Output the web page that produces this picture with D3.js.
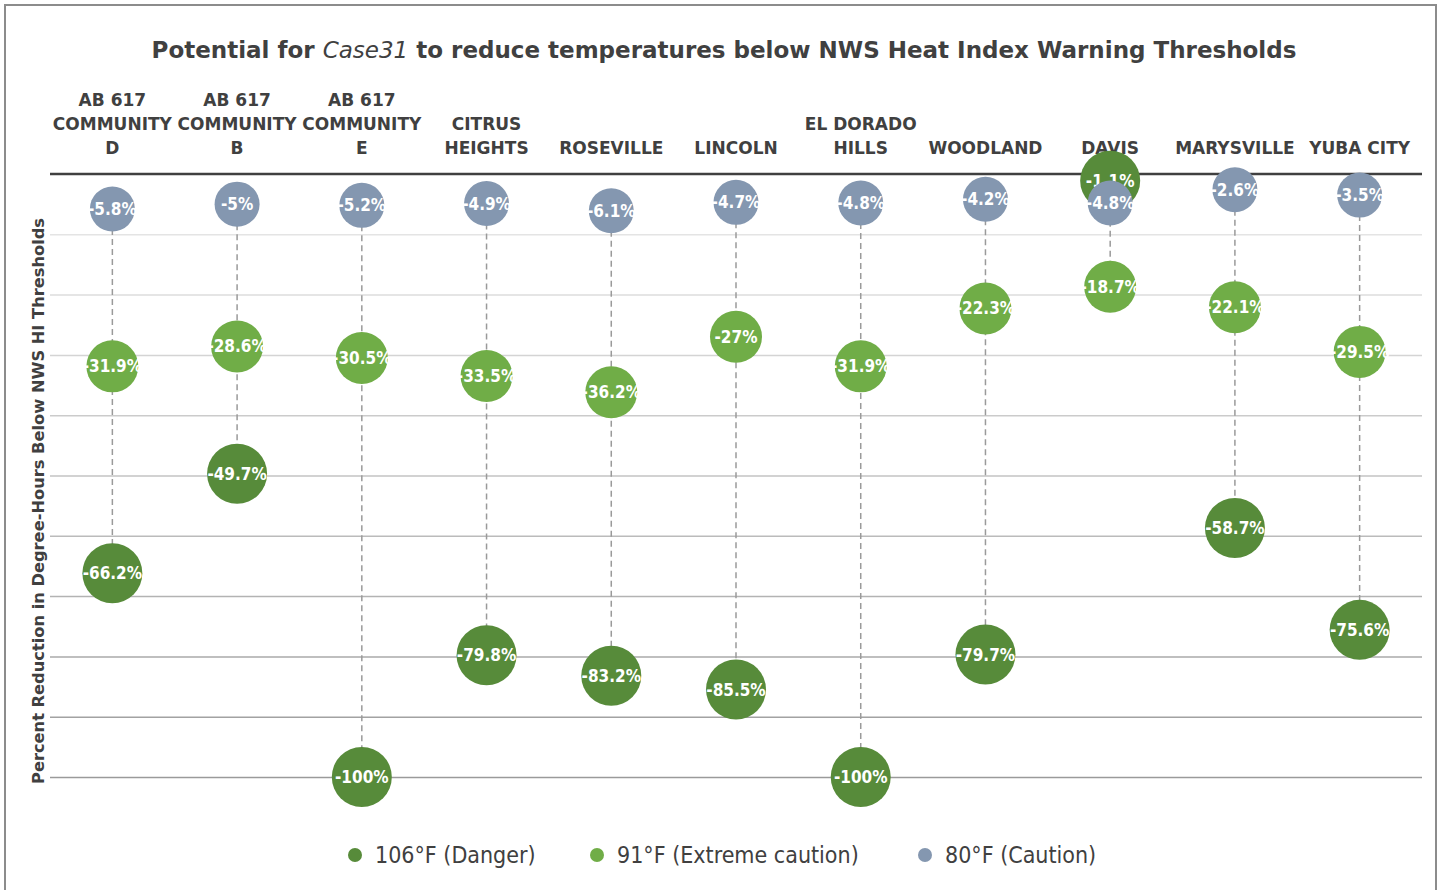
<!DOCTYPE html>
<html>
<head>
<meta charset="utf-8">
<script src="https://cdn.jsdelivr.net/npm/d3@7"></script>
<style>
  body { margin: 0; background: #fff; }
  svg { display: block; }
</style>
</head>
<body>
<div id="chart"></div>
<script>
// categories (label lines)
var categories = [
  ["AB 617", "COMMUNITY", "D"],
  ["AB 617", "COMMUNITY", "B"],
  ["AB 617", "COMMUNITY", "E"],
  ["CITRUS", "HEIGHTS"],
  ["ROSEVILLE"],
  ["LINCOLN"],
  ["EL DORADO", "HILLS"],
  ["WOODLAND"],
  ["DAVIS"],
  ["MARYSVILLE"],
  ["YUBA CITY"]
];
var danger  = [-66.2, -49.7, -100, -79.8, -83.2, -85.5, -100, -79.7, -1.1, -58.7, -75.6];
var extreme = [-31.9, -28.6, -30.5, -33.5, -36.2, -27, -31.9, -22.3, -18.7, -22.1, -29.5];
var caution = [-5.8, -5, -5.2, -4.9, -6.1, -4.7, -4.8, -4.2, -4.8, -2.6, -3.5];
var gridTicks = [-10, -20, -30, -40, -50, -60, -70, -80, -90, -100];

var series = [
  {name: "106°F (Danger)", values: danger, color: "#578b3a", r: 30},
  {name: "91°F (Extreme caution)", values: extreme, color: "#70ad47", r: 26},
  {name: "80°F (Caution)", values: caution, color: "#8497b0", r: 22.5}
];

var W = 1440, H = 890;
var margin = {top: 174, left: 50, right: 18, bottom: 113};
var textColor = "#404040";
var headFont = "'DejaVu Sans', 'Noto Sans', sans-serif";
var numFont = "'Liberation Sans Narrow', 'DejaVu Sans Condensed', 'Roboto', sans-serif";

var svg = d3.select("#chart").append("svg")
  .attr("width", W).attr("height", H);

// chart border
svg.append("rect")
  .attr("x", 5).attr("y", 5).attr("width", 1431).attr("height", 900)
  .attr("fill", "#fff").attr("stroke", "#8c8c8c").attr("stroke-width", 2);

var keys = categories.map(function(c) { return c.join(" "); });
var x = d3.scaleBand().domain(keys).range([margin.left, W - margin.right]);
var y = d3.scaleLinear().domain([0, -100]).range([margin.top, H - margin.bottom]);

// shrink a text node until it fits a width
function fit(sel, width) {
  sel.each(function() {
    var node = this, size = parseFloat(d3.select(node).attr("font-size"));
    while (node.getComputedTextLength() > width && size > 6) {
      size -= 0.25;
      d3.select(node).attr("font-size", size);
    }
  });
}

// title
var title = svg.append("text")
  .attr("x", 724).attr("y", 58)
  .attr("text-anchor", "middle")
  .attr("font-family", headFont)
  .attr("font-weight", "bold")
  .attr("font-size", 25)
  .attr("fill", textColor);
title.append("tspan").text("Potential for ");
title.append("tspan").attr("font-style", "italic").attr("font-weight", "normal").text("Case31");
title.append("tspan").text(" to reduce temperatures below NWS Heat Index Warning Thresholds");
fit(title, 1150);

// gridlines
var gridColor = d3.scaleLinear().domain([-10, -100]).range(["#e4e4e4", "#9a9a9a"]);
var grid = svg.append("g")
  .attr("transform", "translate(" + margin.left + ",0)")
  .call(d3.axisLeft(y).tickValues(gridTicks).tickSize(-(W - margin.left - margin.right)).tickFormat(""));
grid.select(".domain").remove();
grid.selectAll(".tick line")
  .attr("stroke", function(d) { return gridColor(d); })
  .attr("stroke-width", 1.5);

// top axis line with category labels
svg.append("line")
  .attr("x1", margin.left).attr("x2", W - margin.right)
  .attr("y1", y(0)).attr("y2", y(0))
  .attr("stroke", "#404040").attr("stroke-width", 2.5);

var catLabels = svg.append("g").selectAll("text")
  .data(categories).enter().append("text")
  .attr("text-anchor", "middle")
  .attr("font-family", headFont)
  .attr("font-weight", "bold")
  .attr("font-size", 17)
  .attr("fill", textColor);
catLabels.each(function(lines) {
  var t = d3.select(this), cx = x(lines.join(" ")) + x.bandwidth() / 2;
  lines.forEach(function(l, i) {
    t.append("tspan")
      .attr("x", cx)
      .attr("y", 154 - (lines.length - 1 - i) * 24)
      .text(l);
  });
});
catLabels.selectAll("tspan").each(function() {
  var node = this, size = 17;
  while (node.getComputedTextLength() > 120 && size > 8) {
    size -= 0.25;
    d3.select(node).attr("font-size", size);
  }
});

// y axis title
var yTitle = svg.append("text")
  .attr("transform", "translate(44,501) rotate(-90)")
  .attr("text-anchor", "middle")
  .attr("font-family", headFont)
  .attr("font-weight", "bold")
  .attr("font-size", 17)
  .attr("fill", textColor)
  .text("Percent Reduction in Degree-Hours Below NWS HI Thresholds");
fit(yTitle, 567);

// dashed connectors
svg.append("g").selectAll("line")
  .data(keys).enter().append("line")
  .attr("x1", function(k) { return x(k) + x.bandwidth() / 2; })
  .attr("x2", function(k) { return x(k) + x.bandwidth() / 2; })
  .attr("y1", function(k, i) { return y(d3.max([danger[i], extreme[i], caution[i]])); })
  .attr("y2", function(k, i) { return y(d3.min([danger[i], extreme[i], caution[i]])); })
  .attr("stroke", "#9a9a9a")
  .attr("stroke-width", 1.5)
  .attr("stroke-dasharray", "6,4");

// bubbles
series.forEach(function(s) {
  var g = svg.append("g");
  var pts = s.values.map(function(v, i) { return {k: keys[i], v: v}; });
  g.selectAll("circle").data(pts).enter().append("circle")
    .attr("cx", function(d) { return x(d.k) + x.bandwidth() / 2; })
    .attr("cy", function(d) { return y(d.v); })
    .attr("r", s.r)
    .attr("fill", s.color);
  g.selectAll("text").data(pts).enter().append("text")
    .attr("x", function(d) { return x(d.k) + x.bandwidth() / 2; })
    .attr("y", function(d) { return y(d.v) + 6; })
    .attr("text-anchor", "middle")
    .attr("font-family", numFont)
    .attr("font-weight", "bold")
    .attr("font-size", 17)
    .attr("fill", "#fff")
    .text(function(d) { return d.v + "%"; });
});

// legend
var legendX = [355, 597, 925];
var legend = svg.append("g").selectAll("g")
  .data(series).enter().append("g")
  .attr("transform", function(d, i) { return "translate(" + legendX[i] + ",855)"; });
legend.append("circle").attr("r", 7).attr("fill", function(d) { return d.color; });
legend.append("text")
  .attr("x", 20).attr("y", 8)
  .attr("font-family", numFont)
  .attr("font-size", 23)
  .attr("fill", textColor)
  .text(function(d) { return d.name; });
</script>
</body>
</html>
